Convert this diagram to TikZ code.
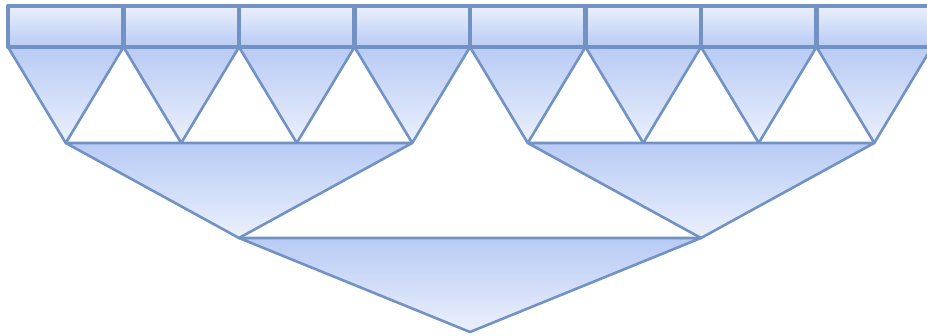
\documentclass[tikz,border=0pt]{standalone}
\usetikzlibrary{calc}
\definecolor{edge}{HTML}{7292C4}
\definecolor{darkfill}{HTML}{B8CBF5}
\definecolor{lightfill}{HTML}{EBF0FC}
\tikzset{
  cellbox/.style={draw=edge, line width=4.2pt, top color=lightfill, bottom color=darkfill, line join=round},
  tri/.style={draw=edge, line width=2.6pt, top color=darkfill, bottom color=lightfill, line join=round},
  hollow/.style={draw=edge, line width=2.6pt, line join=round}
}
\begin{document}
\begin{tikzpicture}[x=1pt,y=-1pt]
\useasboundingbox (0,0) rectangle (927,335);
\clip (0,0) rectangle (927,335);
% coordinates
\foreach \i in {0,...,8} {
  \coordinate (t\i) at ({8+115.5*\i},47);
  \coordinate (u\i) at ({8+115.5*\i},6);
}
\foreach \i in {0,...,7} {
  \coordinate (b\i) at ({65.75+115.5*\i},143);
}
\coordinate (c1) at (239,238);
\coordinate (c2) at (701,238);
\coordinate (d) at (470,332);
% level 1 triangles
\foreach \i [evaluate=\i as \j using int(\i+1)] in {0,...,7} {
  \path[tri] (t\i) -- (t\j) -- (b\i) -- cycle;
}
% level 2
\path[tri] (b0) -- (b3) -- (c1) -- cycle;
\path[tri] (b4) -- (b7) -- (c2) -- cycle;
% level 3
\path[tri] (c1) -- (c2) -- (d) -- cycle;
% boxes
\foreach \i [evaluate=\i as \j using int(\i+1)] in {0,...,7} {
  \path[cellbox] (u\i) rectangle (t\j);
}
\end{tikzpicture}
\end{document}
